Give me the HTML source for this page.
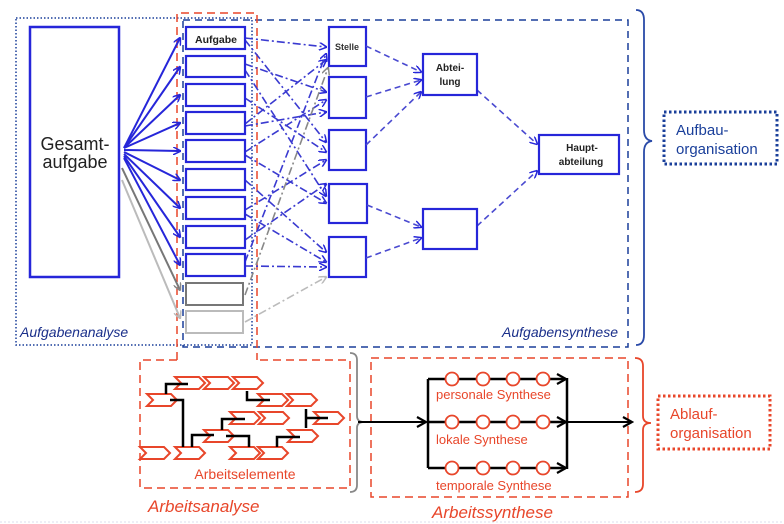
<!DOCTYPE html>
<html><head><meta charset="utf-8"><style>
html,body{margin:0;padding:0;background:#fff;}
svg{display:block;font-family:"Liberation Sans","DejaVu Sans",sans-serif;}
</style></head><body>
<svg width="784" height="524" viewBox="0 0 784 524" xmlns="http://www.w3.org/2000/svg">
<defs>
<marker id="ab" markerWidth="8" markerHeight="8" refX="7" refY="4" orient="auto" markerUnits="userSpaceOnUse"><path d="M0,0 L8,4 L0,8" fill="none" stroke="#2626d9" stroke-width="1.5"/></marker>
<marker id="ag" markerWidth="8" markerHeight="8" refX="7" refY="4" orient="auto" markerUnits="userSpaceOnUse"><path d="M0,0 L8,4 L0,8" fill="none" stroke="#888" stroke-width="1.5"/></marker>
<marker id="al" markerWidth="8" markerHeight="8" refX="7" refY="4" orient="auto" markerUnits="userSpaceOnUse"><path d="M0,0 L8,4 L0,8" fill="none" stroke="#bbb" stroke-width="1.5"/></marker>
<marker id="ak" markerWidth="12" markerHeight="12" refX="10" refY="6" orient="auto" markerUnits="userSpaceOnUse"><path d="M1,1 L10,6 L1,11" fill="none" stroke="#000" stroke-width="2.2"/></marker>
<marker id="kb" markerWidth="10" markerHeight="10" refX="9" refY="5" orient="auto" markerUnits="userSpaceOnUse"><path d="M1,1 L9,5 L1,9" fill="none" stroke="#6b5dc9" stroke-width="1.5"/></marker>
</defs>

<!-- outer frames -->
<rect x="16" y="18" width="236" height="327" fill="none" stroke="#1a3f9a" stroke-width="1.5" stroke-dasharray="1.5,2"/>
<rect x="183" y="20" width="445" height="327" fill="none" stroke="#1a3f9a" stroke-width="1.5" stroke-dasharray="7,5"/>
<path d="M177,360 L177,13 L257,13 L257,360" fill="none" stroke="#e8462a" stroke-width="1.5" stroke-dasharray="8,5"/>

<!-- Gesamtaufgabe -->
<rect x="30" y="27" width="89" height="250" fill="#fff" stroke="#2626d9" stroke-width="2.5"/>
<text x="75" y="150" font-size="18" text-anchor="middle" fill="#222">Gesamt-</text>
<text x="75" y="168" font-size="18" text-anchor="middle" fill="#222">aufgabe</text>

<!-- fan arrows -->
<g stroke="#2626d9" stroke-width="2" fill="none" marker-end="url(#ab)">
<line x1="124" y1="148" x2="180" y2="38"/>
<line x1="124" y1="148" x2="180" y2="67"/>
<line x1="124" y1="148" x2="180" y2="95"/>
<line x1="124" y1="148" x2="180" y2="123"/>
<line x1="124" y1="150" x2="180" y2="151"/>
<line x1="124" y1="152" x2="180" y2="180"/>
<line x1="124" y1="154" x2="180" y2="208"/>
<line x1="124" y1="156" x2="180" y2="237"/>
<line x1="124" y1="158" x2="180" y2="265"/>
</g>
<line x1="122" y1="168" x2="180" y2="290" stroke="#777" stroke-width="2" marker-end="url(#ag)"/>
<line x1="122" y1="180" x2="180" y2="318" stroke="#bbb" stroke-width="2" marker-end="url(#al)"/>

<!-- cross connections -->
<g stroke="#3a3ad0" stroke-width="1.6" fill="none" stroke-dasharray="8,3,2,3" marker-end="url(#ab)">
<line x1="245" y1="38" x2="326" y2="47"/>
<line x1="245" y1="40" x2="326" y2="142"/>
<line x1="245" y1="64" x2="326" y2="92"/>
<line x1="245" y1="70" x2="326" y2="196"/>
<line x1="245" y1="98" x2="326" y2="152"/>
<line x1="245" y1="124" x2="326" y2="60"/>
<line x1="245" y1="126" x2="326" y2="112"/>
<line x1="245" y1="152" x2="326" y2="100"/>
<line x1="245" y1="155" x2="326" y2="203"/>
<line x1="245" y1="180" x2="326" y2="252"/>
<line x1="245" y1="210" x2="326" y2="160"/>
<line x1="245" y1="214" x2="326" y2="262"/>
<line x1="245" y1="240" x2="326" y2="184"/>
<line x1="245" y1="266" x2="326" y2="267"/>
<line x1="245" y1="262" x2="326" y2="54"/>
</g>
<line x1="245" y1="295" x2="328" y2="68" stroke="#888" stroke-width="1.6" stroke-dasharray="8,3,2,3" marker-end="url(#ag)"/>
<line x1="245" y1="322" x2="326" y2="277" stroke="#bbb" stroke-width="1.6" stroke-dasharray="8,3,2,3" marker-end="url(#al)"/>

<!-- small boxes -->
<g fill="#fff" stroke="#2626d9" stroke-width="2.2">
<rect x="186" y="27" width="59" height="22"/>
<rect x="186" y="56" width="59" height="21"/>
<rect x="186" y="84" width="59" height="22"/>
<rect x="186" y="112" width="59" height="22"/>
<rect x="186" y="140" width="59" height="22"/>
<rect x="186" y="169" width="59" height="21"/>
<rect x="186" y="197" width="59" height="22"/>
<rect x="186" y="226" width="59" height="22"/>
<rect x="186" y="254" width="59" height="22"/>
</g>
<rect x="186" y="283" width="57" height="22" fill="#fff" stroke="#777" stroke-width="2"/>
<rect x="186" y="311" width="57" height="22" fill="#fff" stroke="#bbb" stroke-width="2"/>
<text x="216" y="43" font-size="10.5" font-weight="bold" text-anchor="middle" fill="#222">Aufgabe</text>

<!-- Stellen -->
<g fill="#fff" stroke="#2626d9" stroke-width="2.2">
<rect x="329" y="27" width="37" height="39"/>
<rect x="329" y="77" width="37" height="41"/>
<rect x="329" y="130" width="37" height="40"/>
<rect x="329" y="184" width="38" height="39"/>
<rect x="329" y="237" width="37" height="40"/>
</g>
<text x="347" y="50" font-size="9" font-weight="bold" text-anchor="middle" fill="#333">Stelle</text>

<!-- to Abteilung -->
<g stroke="#4a4ad0" stroke-width="1.6" fill="none" stroke-dasharray="6,4" marker-end="url(#ab)">
<line x1="366" y1="46" x2="421" y2="72"/>
<line x1="366" y1="97" x2="421" y2="80"/>
<line x1="366" y1="145" x2="421" y2="92"/>
<line x1="367" y1="205" x2="421" y2="227"/>
<line x1="366" y1="258" x2="421" y2="238"/>
<line x1="477" y1="90" x2="537" y2="144"/>
<line x1="477" y1="226" x2="537" y2="171"/>
</g>
<rect x="423" y="54" width="54" height="41" fill="#fff" stroke="#2626d9" stroke-width="2.2"/>
<text x="450" y="71" font-size="10" font-weight="bold" text-anchor="middle" fill="#222">Abtei-</text>
<text x="450" y="85" font-size="10" font-weight="bold" text-anchor="middle" fill="#222">lung</text>
<rect x="423" y="209" width="54" height="40" fill="#fff" stroke="#2626d9" stroke-width="2.2"/>
<rect x="539" y="135" width="80" height="39" fill="#fff" stroke="#2626d9" stroke-width="2.2"/>
<text x="582" y="151" font-size="10" font-weight="bold" text-anchor="middle" fill="#222">Haupt-</text>
<text x="581" y="165" font-size="10" font-weight="bold" text-anchor="middle" fill="#222">abteilung</text>

<text x="20" y="337" font-size="14" font-style="italic" fill="#1a2f8a">Aufgabenanalyse</text>
<text x="618" y="337" font-size="14" font-style="italic" fill="#1a2f8a" text-anchor="end">Aufgabensynthese</text>

<!-- blue brace -->
<path d="M636,10 Q644,10 644,20 L644,130 Q644,140 652,141 Q644,142 644,152 L644,335 Q644,345 636,345" fill="none" stroke="#2a4aa8" stroke-width="1.8"/>
<rect x="664" y="112" width="113" height="52" fill="none" stroke="#1a3f9a" stroke-width="3" stroke-dasharray="2.5,2.5"/>
<text x="676" y="135" font-size="15" fill="#1a3f9a">Aufbau-</text>
<text x="676" y="154" font-size="15" fill="#1a3f9a">organisation</text>

<!-- Arbeitsanalyse -->
<path d="M177,360 L140,360 L140,488 L350,488 L350,360 L257,360" fill="none" stroke="#e8462a" stroke-width="1.5" stroke-dasharray="8,5"/>
<g fill="#fff" stroke="#e8462a" stroke-width="2">
<path id="c" d="M0,-6 L24,-6 L30,0 L24,6 L0,6 L6,0 Z" transform="translate(175,383)"/>
<use href="#c" transform="translate(29,0)"/>
<use href="#c" transform="translate(58,0)"/>
<use href="#c" transform="translate(-28,17)"/>
<use href="#c" transform="translate(83,17)"/>
<use href="#c" transform="translate(112,17)"/>
<use href="#c" transform="translate(55,35)"/>
<use href="#c" transform="translate(84,35)"/>
<use href="#c" transform="translate(139,35)"/>
<use href="#c" transform="translate(29,53)"/>
<use href="#c" transform="translate(113,53)"/>
<use href="#c" transform="translate(-35,70)"/>
<use href="#c" transform="translate(0,70)"/>
<use href="#c" transform="translate(55,70)"/>
<use href="#c" transform="translate(83,70)"/>
</g>
<g stroke="#000" stroke-width="2.5" fill="none">
<path d="M166,394 L166,384 L188,384"/>
<path d="M170,400 L183,400 L183,447"/>
<path d="M247,391 L247,400 L270,400"/>
<path d="M222,430 L222,419 L245,419"/>
<path d="M192,447 L192,435 L214,435"/>
<path d="M226,436 L249,436 L249,447"/>
<path d="M277,447 L277,437 L300,437"/>
<path d="M306,409 L306,428 M306,418 L328,418"/>
</g>
<text x="245" y="479" font-size="14" text-anchor="middle" fill="#e8462a">Arbeitselemente</text>
<text x="148" y="512" font-size="17" font-style="italic" fill="#e8462a">Arbeitsanalyse</text>

<!-- gray brace -->
<path d="M350,353 Q357,353 357,360 L357,416 Q357,422 364,422 Q357,422 357,428 L357,485 Q357,492 350,492" fill="none" stroke="#888" stroke-width="1.8"/>

<!-- Arbeitssynthese -->
<rect x="371" y="358" width="257" height="139" fill="none" stroke="#e8462a" stroke-width="1.5" stroke-dasharray="8,5"/>
<g stroke="#000" stroke-width="2.5" fill="none">
<line x1="358" y1="422" x2="426" y2="422" stroke-width="2" marker-end="url(#ak)"/>
<line x1="428" y1="379" x2="428" y2="468"/>
<line x1="428" y1="379" x2="566" y2="379" marker-end="url(#ak)"/>
<line x1="428" y1="422" x2="566" y2="422" marker-end="url(#ak)"/>
<line x1="428" y1="468" x2="566" y2="468" marker-end="url(#ak)"/>
<line x1="567" y1="378" x2="567" y2="469"/>
<line x1="567" y1="422" x2="632" y2="422" stroke-width="2" marker-end="url(#ak)"/>
</g>
<g fill="#fff" stroke="#e8462a" stroke-width="1.8">
<circle cx="452" cy="379" r="6.5"/><circle cx="483" cy="379" r="6.5"/><circle cx="513" cy="379" r="6.5"/><circle cx="543" cy="379" r="6.5"/>
<circle cx="452" cy="422" r="6.5"/><circle cx="483" cy="422" r="6.5"/><circle cx="513" cy="422" r="6.5"/><circle cx="543" cy="422" r="6.5"/>
<circle cx="452" cy="468" r="6.5"/><circle cx="483" cy="468" r="6.5"/><circle cx="513" cy="468" r="6.5"/><circle cx="543" cy="468" r="6.5"/>
</g>
<g font-size="13" fill="#e8462a">
<text x="436" y="399">personale Synthese</text>
<text x="436" y="444">lokale Synthese</text>
<text x="436" y="490">temporale Synthese</text>
</g>
<text x="432" y="518" font-size="17" font-style="italic" fill="#e8462a">Arbeitssynthese</text>

<!-- red brace -->
<path d="M635,358 Q643,358 643,366 L643,416 Q643,423 651,423 Q643,423 643,430 L643,484 Q643,492 635,492" fill="none" stroke="#e8462a" stroke-width="1.8"/>
<rect x="658" y="396" width="112" height="53" fill="none" stroke="#e8462a" stroke-width="3" stroke-dasharray="2.5,2.5"/>
<text x="670" y="419" font-size="15" fill="#e8462a">Ablauf-</text>
<text x="670" y="438" font-size="15" fill="#e8462a">organisation</text>

<line x1="0" y1="522" x2="784" y2="522" stroke="#dde" stroke-width="1" stroke-dasharray="2,2"/>
</svg>
</body></html>
